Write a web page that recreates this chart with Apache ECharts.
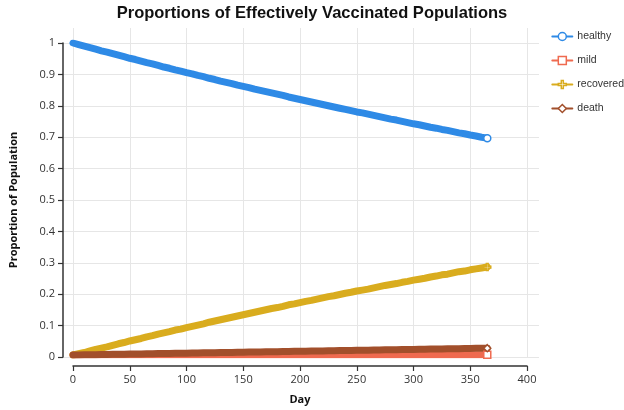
<!DOCTYPE html>
<html lang="en">
<head>
    <meta charset="UTF-8">
    <title>Proportions of Effectively Vaccinated Populations</title>
    <script src="https://cdn.jsdelivr.net/npm/echarts@6/dist/echarts.min.js"></script>
    <style>
        html, body { margin: 0; padding: 0; background: #fff; }
        #chart { width: 624px; height: 410px; }
    </style>
</head>
<body>
    <div id="chart"></div>
    <script type="text/javascript">
        // days sampled every 5 days
        var days = [0, 5, 10, 15, 20, 25, 30, 35, 40, 45, 50, 55, 60, 65, 70, 75, 80, 85, 90, 95,
            100, 105, 110, 115, 120, 125, 130, 135, 140, 145, 150, 155, 160, 165, 170, 175, 180, 185, 190, 195,
            200, 205, 210, 215, 220, 225, 230, 235, 240, 245, 250, 255, 260, 265, 270, 275, 280, 285, 290, 295,
            300, 305, 310, 315, 320, 325, 330, 335, 340, 345, 350, 355, 360, 365];

        var healthy = [1.000, 0.995, 0.990, 0.985, 0.980, 0.975, 0.971, 0.966, 0.961, 0.956,
            0.951, 0.947, 0.942, 0.937, 0.933, 0.928, 0.923, 0.919, 0.914, 0.910,
            0.905, 0.901, 0.896, 0.892, 0.887, 0.883, 0.878, 0.874, 0.870, 0.865,
            0.861, 0.857, 0.852, 0.848, 0.844, 0.840, 0.836, 0.832, 0.827, 0.823,
            0.819, 0.815, 0.811, 0.807, 0.803, 0.799, 0.795, 0.791, 0.787, 0.783,
            0.779, 0.776, 0.772, 0.768, 0.764, 0.760, 0.756, 0.753, 0.749, 0.745,
            0.741, 0.738, 0.734, 0.730, 0.727, 0.723, 0.720, 0.716, 0.712, 0.709,
            0.705, 0.702, 0.698, 0.695];

        var mild = [0, 0.0005, 0.0005, 0.0005, 0.0005, 0.0005, 0.0005, 0.0005, 0.0005, 0.0005,
            0.0005, 0.0005, 0.0005, 0.0005, 0.0005, 0.0005, 0.0005, 0.0005, 0.0005, 0.0005,
            0.0005, 0.0005, 0.0005, 0.0005, 0.0005, 0.0005, 0.0005, 0.0005, 0.0005, 0.0005,
            0.0005, 0.0005, 0.0005, 0.0005, 0.0005, 0.0005, 0.0005, 0.0005, 0.0005, 0.0005,
            0.0005, 0.0005, 0.0005, 0.0005, 0.0005, 0.0005, 0.0005, 0.0005, 0.0005, 0.0005,
            0.0005, 0.0005, 0.0005, 0.0005, 0.0005, 0.0005, 0.0005, 0.0005, 0.0005, 0.0005,
            0.0005, 0.0005, 0.0005, 0.0005, 0.0005, 0.0005, 0.0005, 0.0005, 0.0005, 0.0005,
            0.0005, 0.0005, 0.0005, 0.0005];

        var recovered = [0, 0.004, 0.008, 0.013, 0.018, 0.022, 0.026, 0.031, 0.036, 0.040,
            0.045, 0.049, 0.053, 0.058, 0.062, 0.067, 0.071, 0.075, 0.080, 0.083,
            0.088, 0.092, 0.096, 0.100, 0.105, 0.109, 0.113, 0.117, 0.121, 0.125,
            0.129, 0.133, 0.137, 0.141, 0.145, 0.149, 0.152, 0.156, 0.161, 0.164,
            0.168, 0.172, 0.175, 0.179, 0.183, 0.187, 0.190, 0.194, 0.198, 0.201,
            0.205, 0.208, 0.211, 0.215, 0.219, 0.223, 0.226, 0.229, 0.233, 0.236,
            0.240, 0.243, 0.246, 0.250, 0.253, 0.257, 0.259, 0.263, 0.267, 0.269,
            0.273, 0.276, 0.279, 0.282];

        var death = [0, 0.0003, 0.0006, 0.0009, 0.0012, 0.0015, 0.0018, 0.0021, 0.0024, 0.0027,
            0.0030, 0.0033, 0.0036, 0.0039, 0.0042, 0.0045, 0.0048, 0.0051, 0.0054, 0.0057,
            0.0060, 0.0063, 0.0066, 0.0069, 0.0072, 0.0075, 0.0078, 0.0081, 0.0084, 0.0087,
            0.0090, 0.0093, 0.0096, 0.0099, 0.0102, 0.0105, 0.0108, 0.0111, 0.0114, 0.0117,
            0.0120, 0.0123, 0.0126, 0.0129, 0.0132, 0.0135, 0.0138, 0.0141, 0.0144, 0.0147,
            0.0150, 0.0153, 0.0156, 0.0159, 0.0162, 0.0165, 0.0168, 0.0171, 0.0174, 0.0177,
            0.0180, 0.0183, 0.0186, 0.0189, 0.0192, 0.0195, 0.0198, 0.0201, 0.0204, 0.0207,
            0.0210, 0.0213, 0.0216, 0.0219];

        var colors = { healthy: '#2e8ae6', mild: '#ef6a4f', recovered: '#d9ac1e', death: '#a24f2b' };

        var pair = function (ys) {
            var res = [];
            for (var i = 0; i < days.length; i++) {
                res.push([days[i], ys[i]]);
            }
            return res;
        };

        var lastIndex = days.length - 1;

        // dense daily markers look like a thick band, so draw a wide line
        // and keep only the hollow marker at the last day
        var makeSeries = function (name, ys, symbol) {
            var c = colors[name];
            return {
                name: name,
                type: 'line',
                xAxisIndex: 0,
                yAxisIndex: 0,
                data: pair(ys),
                symbol: symbol,
                symbolSize: function (v, p) {
                    return p.dataIndex === lastIndex ? 7 : 0;
                },
                showSymbol: true,
                showAllSymbol: true,
                lineStyle: { color: c, width: 7, cap: 'round', join: 'round' },
                itemStyle: { color: '#fff', borderColor: c, borderWidth: 1.5 },
                emphasis: { disabled: true }
            };
        };

        var axisFont = { color: '#333', fontSize: 11, fontFamily: 'Open Sans' };
        var gridColor = '#e6e6e6';

        var myChart = echarts.init(document.getElementById('chart'));
        var option = {
            animation: false,
            backgroundColor: '#fff',
            title: {
                text: 'Proportions of Effectively Vaccinated Populations',
                left: 'center',
                top: 0,
                textStyle: { fontFamily: 'Liberation Sans', fontSize: 16.5, fontWeight: 'bold', color: '#111' }
            },
            legend: {
                orient: 'vertical',
                right: 0,
                top: 31,
                padding: 0,
                align: 'left',
                itemWidth: 20,
                itemHeight: 10,
                itemGap: 13,
                lineStyle: { width: 2 },
                itemStyle: { borderWidth: 1.5 },
                textStyle: { color: '#333', fontSize: 10.5, fontFamily: 'Liberation Sans', overflow: 'none' },
                data: ['healthy', 'mild', 'recovered', 'death']
            },
            grid: [
                { left: 73, right: 97, top: 43, bottom: 53 },   // data + x axis
                { left: 73, right: 97, top: 28, bottom: 53 },   // vertical grid lines
                { left: 62, right: 85, top: 43, bottom: 53 }    // horizontal grid lines + y axis
            ],
            xAxis: [
                {
                    gridIndex: 0, type: 'value', min: 0, max: 400, interval: 50,
                    offset: 11,
                    name: 'Day', nameLocation: 'middle', nameGap: 28,
                    nameTextStyle: { color: '#111', fontSize: 11, fontWeight: 'bold', fontFamily: 'Open Sans' },
                    axisLine: { show: true, onZero: false, lineStyle: { color: '#333', width: 1.5 } },
                    axisTick: { show: true, length: 5, lineStyle: { color: '#333', width: 1.2 } },
                    axisLabel: axisFont,
                    splitLine: { show: false }
                },
                {
                    gridIndex: 1, type: 'value', min: 0, max: 400, interval: 50,
                    axisLine: { show: false }, axisTick: { show: false }, axisLabel: { show: false },
                    splitLine: { show: true, lineStyle: { color: gridColor, width: 1 } }
                },
                {
                    gridIndex: 2, type: 'value', min: 0, max: 1, show: false
                }
            ],
            yAxis: [
                { gridIndex: 0, type: 'value', min: 0, max: 1, show: false },
                { gridIndex: 1, type: 'value', min: 0, max: 1, show: false },
                {
                    gridIndex: 2, type: 'value', min: 0, max: 1, interval: 0.1,
                    name: 'Proportion of Population', nameLocation: 'middle', nameGap: 44,
                    nameTextStyle: { color: '#111', fontSize: 11, fontWeight: 'bold', fontFamily: 'Open Sans' },
                    axisLine: { show: true, onZero: false, lineStyle: { color: '#333', width: 1.5 } },
                    axisTick: { show: true, length: 5, lineStyle: { color: '#333', width: 1.2 } },
                    axisLabel: axisFont,
                    splitLine: { show: true, lineStyle: { color: gridColor, width: 1 } }
                }
            ],
            series: [
                makeSeries('healthy', healthy, 'circle'),
                makeSeries('mild', mild, 'rect'),
                makeSeries('recovered', recovered, 'path://M3,0 H5 V3 H8 V5 H5 V8 H3 V5 H0 V3 H3 Z'),
                makeSeries('death', death, 'diamond')
            ]
        };
        myChart.setOption(option);
    </script>
</body>
</html>
